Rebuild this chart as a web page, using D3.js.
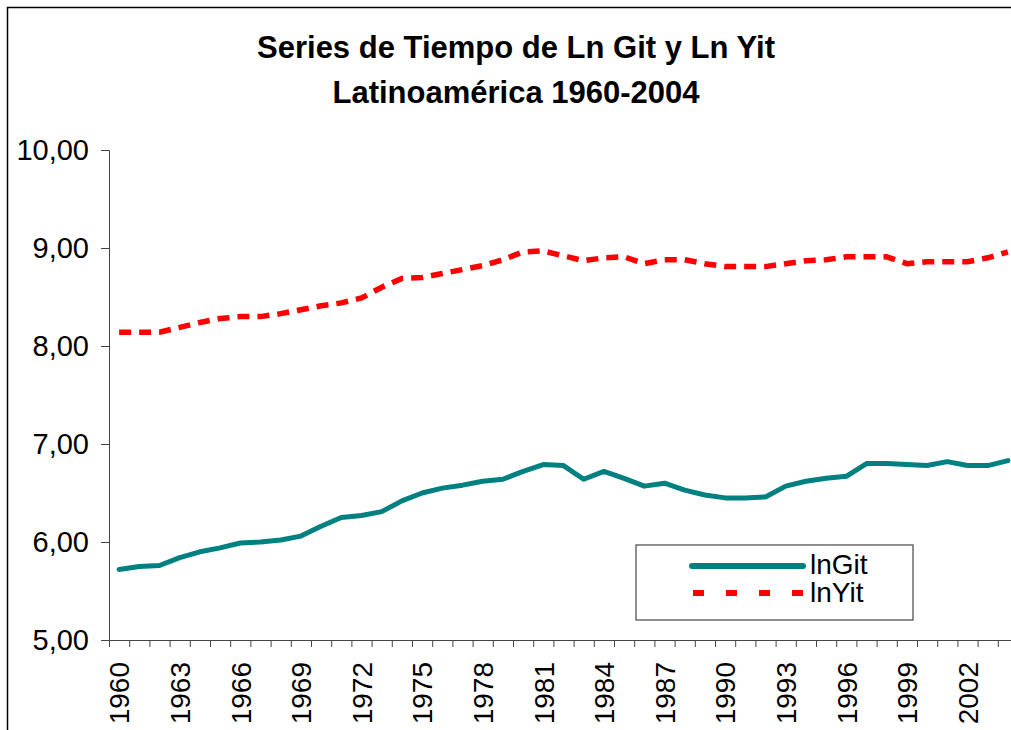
<!DOCTYPE html>
<html>
<head>
<meta charset="utf-8">
<script src="https://cdn.jsdelivr.net/npm/d3@7"></script>
<style>
  body { margin: 0; background: #fff; }
  svg { display: block; font-family: "Liberation Sans", Arial, sans-serif; }
</style>
</head>
<body>
<svg></svg>
<script>
// data
const years = [1960, 1961, 1962, 1963, 1964, 1965, 1966, 1967, 1968, 1969,
  1970, 1971, 1972, 1973, 1974, 1975, 1976, 1977, 1978, 1979,
  1980, 1981, 1982, 1983, 1984, 1985, 1986, 1987, 1988, 1989,
  1990, 1991, 1992, 1993, 1994, 1995, 1996, 1997, 1998, 1999,
  2000, 2001, 2002, 2003, 2004];
const lnGit = [5.72, 5.75, 5.76, 5.84, 5.90, 5.94, 5.99, 6.00, 6.02, 6.06,
  6.16, 6.25, 6.27, 6.31, 6.42, 6.50, 6.55, 6.58, 6.62, 6.64,
  6.72, 6.79, 6.78, 6.64, 6.72, 6.65, 6.57, 6.60, 6.53, 6.48,
  6.45, 6.45, 6.46, 6.57, 6.62, 6.65, 6.67, 6.80, 6.80, 6.79,
  6.78, 6.82, 6.78, 6.78, 6.83];
const lnYit = [8.14, 8.14, 8.14, 8.19, 8.24, 8.28, 8.30, 8.30, 8.33, 8.37,
  8.41, 8.44, 8.49, 8.60, 8.69, 8.70, 8.74, 8.78, 8.82, 8.88,
  8.96, 8.97, 8.92, 8.87, 8.90, 8.91, 8.84, 8.88, 8.88, 8.84,
  8.81, 8.81, 8.81, 8.84, 8.87, 8.88, 8.91, 8.91, 8.91, 8.84,
  8.86, 8.86, 8.86, 8.90, 8.96];
const yTicks = [5, 6, 7, 8, 9, 10];
const xLabels = [1960, 1963, 1966, 1969, 1972, 1975, 1978, 1981, 1984, 1987, 1990, 1993, 1996, 1999, 2002];
const seriesNames = ["lnGit", "lnYit"];
const titleLines = ["Series de Tiempo de Ln Git y Ln Yit", "Latinoamérica 1960-2004"];

const svg = d3.select("svg").attr("width", 1011).attr("height", 730);

// outer chart frame (runs past the right/bottom edge like the original)
svg.append("rect")
  .attr("x", 7.5).attr("y", 7.5)
  .attr("width", 1100).attr("height", 800)
  .attr("fill", "none")
  .attr("stroke", "#000")
  .attr("stroke-width", 1.5);

// title
svg.append("g").selectAll("text")
  .data(titleLines)
  .join("text")
  .attr("x", 516)
  .attr("y", (d, i) => 58 + i * 45)
  .attr("text-anchor", "middle")
  .attr("font-size", "31px")
  .attr("font-weight", "bold")
  .attr("fill", "#000")
  .text(d => d);

// scales: categories sit between tick marks
const x = d3.scaleLinear()
  .domain([years[0] - 0.5, years[years.length - 1] + 0.5])
  .range([109, 109 + years.length * 20.2]);
const y = d3.scaleLinear().domain([5, 10]).range([640, 150]);

// y axis
const yAxis = svg.append("g")
  .attr("transform", "translate(109,0)")
  .call(d3.axisLeft(y).tickValues(yTicks).tickSize(8).tickPadding(12)
    .tickFormat(d => d3.format(".2f")(d).replace(".", ",")));
yAxis.selectAll("text").attr("font-size", "29px").attr("fill", "#000")
  .attr("font-family", "'Liberation Sans', Arial, sans-serif");
yAxis.selectAll("line, path").attr("stroke", "#444");

// x axis tick marks between years
const xTickVals = years.map(d => d - 0.5).concat([years[years.length - 1] + 0.5]);
const xAxis = svg.append("g")
  .attr("transform", "translate(0,640)")
  .call(d3.axisBottom(x).tickValues(xTickVals).tickSize(7).tickFormat("").tickSizeOuter(0));
xAxis.selectAll("line, path").attr("stroke", "#444");

// x labels every 3 years, rotated
const xLab = svg.append("g")
  .attr("transform", "translate(0,640)")
  .call(d3.axisBottom(x).tickValues(xLabels).tickSize(0).tickFormat(d3.format("d")));
xLab.select(".domain").remove();
xLab.selectAll("text")
  .attr("font-size", "28px")
  .attr("fill", "#000")
  .attr("font-family", "'Liberation Sans', Arial, sans-serif")
  .attr("text-anchor", "end")
  .attr("transform", "rotate(-90)")
  .attr("x", -22)
  .attr("y", 0)
  .attr("dy", "0.35em");

// lines
const line = d3.line().x((d, i) => x(years[i])).y(d => y(d));

svg.append("path")
  .datum(lnYit)
  .attr("d", line)
  .attr("fill", "none")
  .attr("stroke", "#ff0000")
  .attr("stroke-width", 5.5)
  .attr("stroke-dasharray", "12,8");

svg.append("path")
  .datum(lnGit)
  .attr("d", line)
  .attr("fill", "none")
  .attr("stroke", "#008080")
  .attr("stroke-width", 5)
  .attr("stroke-linejoin", "round")
  .attr("stroke-linecap", "round");

// legend
const legend = svg.append("g").attr("transform", "translate(636,545)");
legend.append("rect")
  .attr("width", 277).attr("height", 75)
  .attr("fill", "#fff")
  .attr("stroke", "#444")
  .attr("stroke-width", 1.2);
legend.append("line")
  .attr("x1", 56).attr("x2", 167).attr("y1", 21).attr("y2", 21)
  .attr("stroke", "#008080").attr("stroke-width", 6).attr("stroke-linecap", "round");
legend.append("line")
  .attr("x1", 57).attr("x2", 168).attr("y1", 48).attr("y2", 48)
  .attr("stroke", "#ff0000").attr("stroke-width", 6).attr("stroke-dasharray", "11,22");
legend.selectAll("text")
  .data(seriesNames)
  .join("text")
  .attr("x", 174)
  .attr("y", (d, i) => 29 + i * 28)
  .attr("font-size", "28px")
  .attr("fill", "#000")
  .text(d => d);
</script>
</body>
</html>
